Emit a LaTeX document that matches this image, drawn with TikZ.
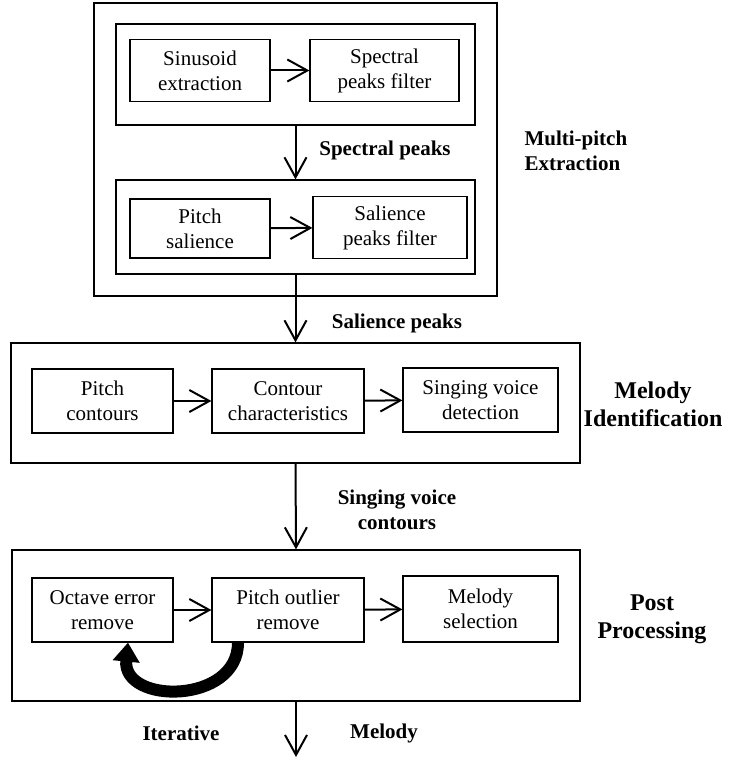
\documentclass[tikz,border=0pt]{standalone}
\usepackage{fontspec}
\setmainfont{Liberation Serif}
\usetikzlibrary{arrows.meta}
\begin{document}
\begin{tikzpicture}[x=1pt,y=-1pt,
  blk/.style={draw,line width=1.2pt,align=center,inner sep=0pt,minimum height=62pt,font=\fontsize{21}{25}\selectfont},
  frame/.style={draw,line width=1.2pt,inner sep=0pt},
  flow/.style={line width=2pt,-{Straight Barb[length=20pt 0,width=22pt 0]}},
  loopback/.style={line width=12pt,-{Triangle[length=19pt 0,width=26pt 0]}},
  lbl/.style={font=\fontsize{21}{25}\selectfont\bfseries,align=center},
  biglbl/.style={font=\fontsize{24}{28}\selectfont\bfseries,align=center}]
  \useasboundingbox (0,0) rectangle (732,760);
  % multi-pitch extraction
  \node[frame,minimum width=403pt,minimum height=293pt] (outer) at (295.5,149.5) {};
  \node[frame,minimum width=359pt,minimum height=101pt] (inner1) at (295.5,74.5) {};
  \node[frame,minimum width=359pt,minimum height=94pt] (inner2) at (295.5,227) {};
  \node[blk,minimum width=140pt] (sinus) at (200,70.5) {Sinusoid\\extraction};
  \node[blk,minimum width=149pt] (specfilt) at (384.5,70.5) {Spectral\\peaks filter};
  \node[blk,minimum width=140pt,minimum height=59pt] (pitchsal) at (200,228.5) {Pitch\\salience};
  \node[blk,minimum width=154pt] (salfilt) at (390,227.5) {Salience\\peaks filter};
  % melody identification
  \node[frame,minimum width=569pt,minimum height=120pt] (ident) at (295.5,403) {};
  \node[blk,minimum width=141pt,minimum height=64pt] (pcont) at (102.5,401) {Pitch\\contours};
  \node[blk,minimum width=152pt,minimum height=64pt] (cchar) at (288,401) {Contour\\characteristics};
  \node[blk,minimum width=155pt,minimum height=64pt] (svd) at (480.5,400) {Singing voice\\detection};
  % post processing
  \node[frame,minimum width=568pt,minimum height=151pt] (post) at (296,625.5) {};
  \node[blk,minimum width=141pt,minimum height=64pt] (octave) at (102.5,610) {Octave error\\remove};
  \node[blk,minimum width=152pt,minimum height=64pt] (outlier) at (288,610) {Pitch outlier\\remove};
  \node[blk,minimum width=155pt,minimum height=66pt] (melsel) at (480.5,609) {Melody\\selection};
  \coordinate (out) at (296,757);

  \draw[flow] (sinus) -- (specfilt);
  \draw[flow] (pitchsal) -- (salfilt);
  \draw[flow] (inner1.south) -- (inner2.north);
  \draw[flow] (inner2.south) -- (ident.north);
  \draw[flow] (pcont) -- (cchar);
  \draw[flow] (cchar) -- (svd);
  \draw[flow] (ident.south) -- (post.north);
  \draw[flow] (octave) -- (outlier);
  \draw[flow] (outlier) -- (melsel);
  \draw[flow] (post.south) -- (out);
  \draw[loopback] ([xshift=-50pt]outlier.south) .. controls +(0,62) and +(-6,62) .. ([xshift=25.5pt]octave.south);

  % labels
  \node[lbl] (speclbl) at (385,150) {Spectral peaks};
  \node[lbl] (sallbl) at (397,323) {Salience peaks};
  \node[lbl] (svclbl) at (397,510) {Singing voice\\contours};
  \node[lbl,align=left,anchor=west] (mpelbl) at (521,151) {Multi-pitch\\Extraction};
  \node[biglbl] (milbl) at (653,404) {Melody\\Identification};
  \node[biglbl] (pplbl) at (652,619) {Post\\Processing};
  \node[lbl] (itlbl) at (181,733) {Iterative};
  \node[lbl] (mellbl) at (384,733) {Melody};
\end{tikzpicture}
\end{document}
